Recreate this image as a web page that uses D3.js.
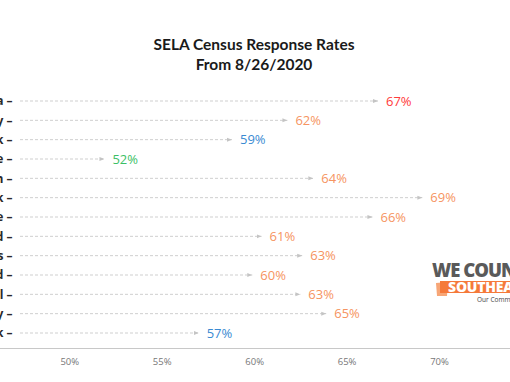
<!DOCTYPE html>
<html>
<head>
<meta charset="utf-8">
<script src="https://cdn.jsdelivr.net/npm/d3@7"></script>
<style>
  html, body { margin: 0; padding: 0; background: #fff; overflow: hidden; }
  svg { display: block; }
</style>
</head>
<body>
<svg id="chart" width="510" height="382"></svg>
<script>
// ---- data ----
const categories = ["Louisiana", "St. Tammany", "Pontchartrain Park", "Chalmette", "Covington",
  "Audubon Park", "Mandeville", "Hammond", "Algiers", "Lower Ninth Ward", "Slidell", "Gentilly", "City Park"];
const values = [66.7, 61.8, 58.8, 51.9, 63.2, 69.1, 66.4, 60.4, 62.6, 59.9, 62.5, 63.9, 57.0];
const valueLabels = ["67%", "62%", "59%", "52%", "64%", "69%", "66%", "61%", "63%", "60%", "63%", "65%", "57%"];
const groups = ["red", "orange", "blue", "green", "orange", "orange", "orange", "orange", "orange", "orange", "orange", "orange", "blue"];
const tickValues = [50, 55, 60, 65, 70];
const titleLines = ["SELA Census Response Rates", "From 8/26/2020"];

const colors = { red: "#ff3a3a", orange: "#f69461", blue: "#3a8ad2", green: "#3cbf66" };

const svg = d3.select("#chart");
const W = 510, H = 382;

const x = d3.scaleLinear().domain([50, 70]).range([69.3, 439]);
const y = d3.scalePoint().domain(categories).range([101, 333]);

// title
svg.append("g").selectAll("text").data(titleLines).join("text")
  .attr("x", 254).attr("y", (d, i) => 50 + i * 19.5)
  .attr("text-anchor", "middle")
  .attr("font-family", "Lato, 'Open Sans', sans-serif")
  .attr("font-weight", "bold").attr("font-size", 15.5)
  .attr("fill", "#1a1a1a")
  .text(d => d);

// arrow marker
const defs = svg.append("defs");
defs.append("marker").attr("id", "arr")
  .attr("viewBox", "0 0 10 10").attr("refX", 10).attr("refY", 5)
  .attr("markerWidth", 5).attr("markerHeight", 5).attr("markerUnits", "userSpaceOnUse")
  .attr("orient", "auto")
  .append("path").attr("d", "M0,1 L10,5 L0,9 Z").attr("fill", "#c4c4c4");

const rows = categories.map((c, i) => ({ c, v: values[i], lab: valueLabels[i], g: groups[i] }));

// dashed arrows
svg.append("g").selectAll("line").data(rows).join("line")
  .attr("x1", 20).attr("x2", d => x(d.v))
  .attr("y1", d => y(d.c)).attr("y2", d => y(d.c))
  .attr("stroke", "#cfcfcf").attr("stroke-width", 1)
  .attr("stroke-dasharray", "3,2")
  .attr("marker-end", "url(#arr)");

// category labels (clipped at page edge)
svg.append("g").selectAll("text").data(rows).join("text")
  .attr("x", 12.5).attr("y", d => y(d.c))
  .attr("dy", "0.35em").attr("text-anchor", "end")
  .attr("font-family", "'Open Sans', sans-serif").attr("font-weight", "bold")
  .attr("font-size", 12).attr("fill", "#2a2a2a")
  .text(d => d.c + " \u2013");

// value labels
svg.append("g").selectAll("text").data(rows).join("text")
  .attr("x", d => x(d.v) + 8).attr("y", d => y(d.c))
  .attr("dy", "0.36em")
  .attr("font-family", "'Open Sans', sans-serif")
  .attr("font-size", 13).attr("fill", d => colors[d.g])
  .text(d => d.lab);

// x axis
const axisY = 348.5;
svg.append("line").attr("x1", 0).attr("x2", W).attr("y1", axisY).attr("y2", axisY)
  .attr("stroke", "#c8c8c8").attr("stroke-width", 1.2);
const xAxis = d3.axisBottom(x).tickValues(tickValues).tickSize(0).tickPadding(0)
  .tickFormat(d => d + "%");
const ax = svg.append("g").attr("transform", `translate(0,${axisY})`).call(xAxis);
ax.select(".domain").remove();
ax.selectAll("text").attr("dy", 0).attr("y", 16.5)
  .attr("font-family", "'Open Sans', sans-serif").attr("font-size", 9.5).attr("fill", "#777");

// logo (partially cut at right edge)
const logo = svg.append("g");
logo.append("text").attr("x", 432).attr("y", 277)
  .attr("font-family", "'Open Sans', sans-serif").attr("font-weight", "800")
  .attr("font-size", 18.5).attr("letter-spacing", -1).attr("fill", "#5a5a5a")
  .text("WE COUNT");
logo.append("path").attr("d", "M436,283 L448,282 L447,296 L437,296 Z").attr("fill", "#f7a677");
logo.append("rect").attr("x", 440).attr("y", 281).attr("width", 90).attr("height", 12).attr("fill", "#f5793a");
logo.append("text").attr("x", 448).attr("y", 291.5)
  .attr("font-family", "'Open Sans', sans-serif").attr("font-weight", "800")
  .attr("font-size", 14).attr("letter-spacing", -0.2).attr("fill", "#fff")
  .text("SOUTHEAST");
logo.append("text").attr("x", 477).attr("y", 302)
  .attr("font-family", "'Open Sans', sans-serif")
  .attr("font-size", 6.5).attr("fill", "#444")
  .text("Our Community");
</script>
</body>
</html>
